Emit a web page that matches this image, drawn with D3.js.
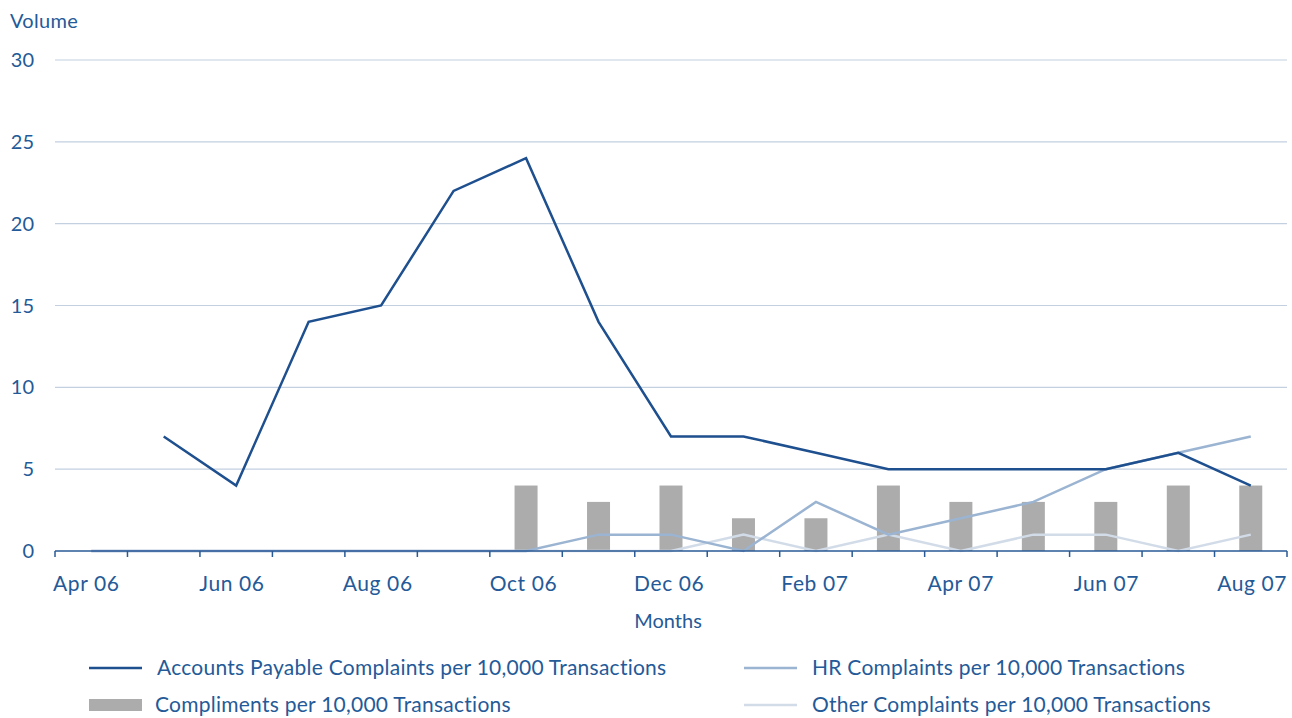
<!DOCTYPE html>
<html>
<head>
<meta charset="utf-8">
<script src="https://cdn.jsdelivr.net/npm/d3@7"></script>
<style>
  body { margin: 0; background: #fff; }
  text { font-family: "Lato", "Noto Sans", sans-serif; fill: #245a98; }
</style>
</head>
<body>
<script>
const width = 1292;
const height = 718;

// データ
const months = ["Apr 06", "May 06", "Jun 06", "Jul 06", "Aug 06", "Sep 06", "Oct 06", "Nov 06",
  "Dec 06", "Jan 07", "Feb 07", "Mar 07", "Apr 07", "May 07", "Jun 07", "Jul 07", "Aug 07"];
const tickMonths = ["Apr 06", "Jun 06", "Aug 06", "Oct 06", "Dec 06", "Feb 07", "Apr 07", "Jun 07", "Aug 07"];
const apComplaints = [null, 7, 4, 14, 15, 22, 24, 14, 7, 7, 6, 5, 5, 5, 5, 6, 4];
const hrComplaints = [0, 0, 0, 0, 0, 0, 0, 1, 1, 0, 3, 1, 2, 3, 5, 6, 7];
const otherComplaints = [0, 0, 0, 0, 0, 0, 0, 0, 0, 1, 0, 1, 0, 1, 1, 0, 1];
const compliments = [null, null, null, null, null, null, 4, 3, 4, 2, 2, 4, 3, 3, 3, 4, 4];
const yTicks = [0, 5, 10, 15, 20, 25, 30];

const margin = { left: 55, right: 5, top: 60, bottom: 167 };

const svg = d3.select("body")
  .append("svg")
  .attr("width", width)
  .attr("height", height);

const x = d3.scaleBand()
  .domain(months)
  .range([margin.left, width - margin.right]);

const y = d3.scaleLinear()
  .domain([0, 30])
  .range([height - margin.bottom, margin.top]);

const cx = m => x(m) + x.bandwidth() / 2;

// グリッド線
svg.append("g")
  .selectAll("line")
  .data(yTicks.filter(d => d > 0))
  .enter()
  .append("line")
  .attr("x1", margin.left)
  .attr("x2", width - margin.right)
  .attr("y1", d => y(d))
  .attr("y2", d => y(d))
  .attr("stroke", "#c3d0e0")
  .attr("stroke-width", 1.2);

// Y軸ラベル
svg.append("g")
  .selectAll("text")
  .data(yTicks)
  .enter()
  .append("text")
  .attr("x", 34)
  .attr("y", d => y(d) + 7)
  .attr("text-anchor", "end")
  .attr("font-size", 20)
  .text(d => d);

svg.append("text")
  .attr("x", 10)
  .attr("y", 28)
  .attr("font-size", 20)
  .attr("letter-spacing", 0.3)
  .text("Volume");

// 棒グラフ
const barW = 23;
svg.append("g")
  .selectAll("rect")
  .data(months.map((m, i) => ({ m, v: compliments[i] })).filter(d => d.v != null))
  .enter()
  .append("rect")
  .attr("x", d => cx(d.m) - barW / 2)
  .attr("y", d => y(d.v))
  .attr("width", barW)
  .attr("height", d => y(0) - y(d.v))
  .attr("fill", "#acacac");

// 折れ線
const line = d3.line()
  .defined(d => d.v != null)
  .x(d => cx(d.m))
  .y(d => y(d.v));

const series = [
  { values: otherComplaints, color: "#d2dce8", w: 2.5 },
  { values: hrComplaints, color: "#9bb4d2", w: 2.5 },
  { values: apComplaints, color: "#1e4f8e", w: 2.5 }
];

series.forEach(s => {
  svg.append("path")
    .datum(months.map((m, i) => ({ m, v: s.values[i] })))
    .attr("fill", "none")
    .attr("stroke", s.color)
    .attr("stroke-width", s.w)
    .attr("stroke-linejoin", "miter")
    .attr("d", line);
});

// X軸
const xAxis = svg.append("g");
xAxis.append("line")
  .attr("x1", margin.left)
  .attr("x2", width - margin.right)
  .attr("y1", y(0))
  .attr("y2", y(0))
  .attr("stroke", "#2a5a96")
  .attr("stroke-width", 1.5);

xAxis.selectAll("line.tick")
  .data(months.concat(["end"]))
  .enter()
  .append("line")
  .attr("class", "tick")
  .attr("x1", (d, i) => i < months.length ? x(d) : x.range()[1])
  .attr("x2", (d, i) => i < months.length ? x(d) : x.range()[1])
  .attr("y1", y(0))
  .attr("y2", y(0) + 6)
  .attr("stroke", "#2a5a96")
  .attr("stroke-width", 1.5);

xAxis.selectAll("text")
  .data(tickMonths)
  .enter()
  .append("text")
  .attr("x", (d, i) => cx(d) - 5 + i * 0.8)
  .attr("y", y(0) + 40)
  .attr("text-anchor", "middle")
  .attr("font-size", 21)
  .attr("letter-spacing", 0.6)
  .text(d => d);

svg.append("text")
  .attr("x", 668)
  .attr("y", 628)
  .attr("text-anchor", "middle")
  .attr("font-size", 20)
  .text("Months");

// 凡例
const legend = [
  { label: "Accounts Payable Complaints per 10,000 Transactions", color: "#1e4f8e", type: "line", x: 89, y: 668 },
  { label: "Compliments per 10,000 Transactions", color: "#acacac", type: "rect", x: 89, y: 705 },
  { label: "HR Complaints per 10,000 Transactions", color: "#9bb4d2", type: "line", x: 744, y: 668 },
  { label: "Other Complaints per 10,000 Transactions", color: "#d2dce8", type: "line", x: 744, y: 705 }
];

const lg = svg.append("g")
  .selectAll("g")
  .data(legend)
  .enter()
  .append("g");

lg.filter(d => d.type === "line")
  .append("line")
  .attr("x1", d => d.x)
  .attr("x2", d => d.x + 53)
  .attr("y1", d => d.y)
  .attr("y2", d => d.y)
  .attr("stroke", d => d.color)
  .attr("stroke-width", 2.5);

lg.filter(d => d.type === "rect")
  .append("rect")
  .attr("x", d => d.x)
  .attr("y", d => d.y - 6)
  .attr("width", 53)
  .attr("height", 12)
  .attr("fill", d => d.color);

lg.append("text")
  .attr("x", d => d.x + (d.type === "rect" ? 66 : (d.x > 500 ? 68 : 68)))
  .attr("y", d => d.y + 7)
  .attr("font-size", 21)
  .attr("letter-spacing", 0.25)
  .text(d => d.label);
</script>
</body>
</html>
